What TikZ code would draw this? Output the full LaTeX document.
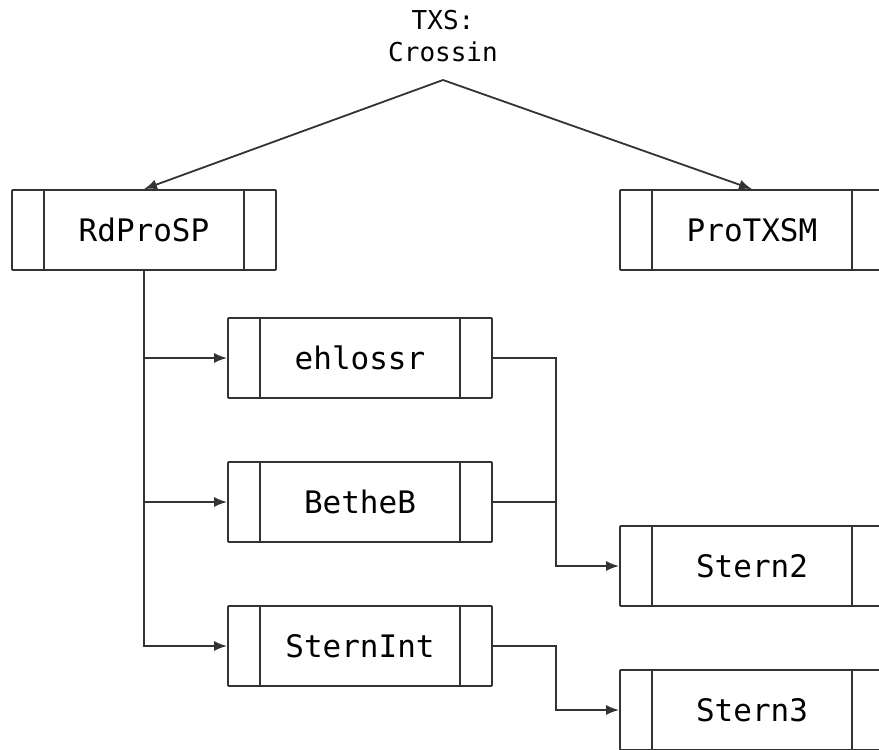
\documentclass[tikz,border=0pt]{standalone}
\usepackage{fontspec}
\newfontfamily\monofont{DejaVu Sans Mono}
\usetikzlibrary{arrows.meta}

\tikzset{
  proc/.style={draw=black!80, line width=1.8pt, rounded corners=1pt,
    minimum width=264pt, minimum height=80pt, inner sep=0pt,
    font=\monofont\fontsize{31}{36}\selectfont},
  link/.style={draw=black!80, line width=1.8pt},
  tip/.style={-{Latex[length=13pt,width=10pt]}}
}

\begin{document}
\begin{tikzpicture}[x=1pt,y=-1pt]
        \useasboundingbox (0,0) rectangle (879,750);
        \clip (0,0) rectangle (879,750);

        % Title
        \node[align=center, font=\monofont\fontsize{26}{32}\selectfont] (txs) at (443,36) {TXS:\\Crossin};
        \coordinate (top) at (443,80);

        % Boxes
        \node[proc] (rdprosp) at (144,230) {RdProSP};
        \node[proc] (protxsm) at (752,230) {ProTXSM};
        \node[proc] (ehlossr) at (360,358) {ehlossr};
        \node[proc] (betheb)  at (360,502) {BetheB};
        \node[proc] (sternint) at (360,646) {SternInt};
        \node[proc] (stern2)  at (752,566) {Stern2};
        \node[proc] (stern3)  at (752,710) {Stern3};

        % Side bars
        \foreach \n in {rdprosp, protxsm, ehlossr, betheb, sternint, stern2, stern3} {
            \draw[link] ([xshift=33pt]\n.north west) -- ([xshift=33pt]\n.south west);
            \draw[link] ([xshift=-33pt]\n.north east) -- ([xshift=-33pt]\n.south east);
        }

        % Connectors
        \draw[link, tip] (top) -- (rdprosp.north);
        \draw[link, tip] (top) -- (protxsm.north);
        \foreach \n in {ehlossr, betheb, sternint} {
            \draw[link, tip] (rdprosp.south) |- (\n.west);
        }
        \draw[link, tip] (ehlossr.east) -- ++(63,0) |- (stern2.west);
        \draw[link] (betheb.east) -- ++(63,0);
        \draw[link, tip] (sternint.east) -- ++(63,0) |- (stern3.west);
    \end{tikzpicture}
\end{document}
